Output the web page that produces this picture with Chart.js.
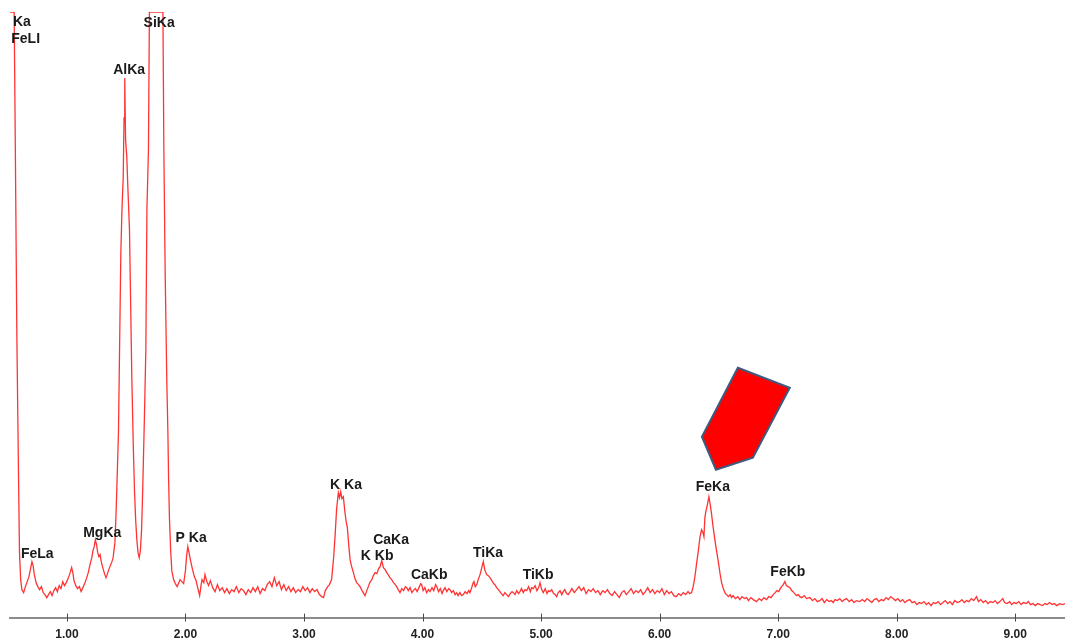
<!DOCTYPE html>
<html>
<head>
<meta charset="utf-8">
<title>EDS spectrum</title>
<script src="https://cdn.jsdelivr.net/npm/chart.js@4.4.1/dist/chart.umd.min.js"></script>
<style>
  html, body { margin: 0; padding: 0; background: #fff; }
  canvas { display: block; }
</style>
</head>
<body>
<canvas id="spectrum" width="1065" height="642"></canvas>
<script>
const energyLow = [
  0.52, 0.545, 0.555, 0.565, 0.578, 0.59, 0.60, 0.61, 0.62, 0.635, 0.65, 0.665, 0.68, 0.695, 0.705, 0.715,
  0.725, 0.74, 0.755, 0.77, 0.785, 0.80, 0.815, 0.83, 0.845, 0.86, 0.875, 0.89, 0.905, 0.92, 0.935, 0.95,
  0.965, 0.98, 0.995, 1.01, 1.025, 1.04, 1.05, 1.06, 1.075, 1.09, 1.105, 1.12, 1.135, 1.15, 1.165, 1.18,
  1.195, 1.21, 1.22, 1.23, 1.24, 1.25, 1.26, 1.27, 1.28, 1.29, 1.30, 1.31, 1.32, 1.33, 1.34, 1.35,
  1.36, 1.37, 1.38, 1.39, 1.405, 1.415, 1.425, 1.435, 1.445, 1.455, 1.465, 1.475, 1.482, 1.488, 1.495, 1.505,
  1.515, 1.528, 1.535, 1.548, 1.56, 1.57, 1.58, 1.59, 1.60, 1.61, 1.62, 1.63, 1.64, 1.654, 1.666, 1.675,
  1.688, 1.696, 1.72, 1.74, 1.76, 1.78, 1.80, 1.81, 1.818, 1.829, 1.843, 1.852, 1.858, 1.865, 1.875, 1.885,
  1.90, 1.915, 1.93, 1.945, 1.955, 1.97, 1.985, 2.00, 2.01, 2.02, 2.03, 2.045, 2.06, 2.075, 2.09, 2.105,
  2.12, 2.13, 2.14, 2.155, 2.165, 2.18, 2.195, 2.21
];
const countsLow = [
  2500, 900, 610, 470, 280, 160, 65, 38, 28, 25, 31, 36, 41, 50, 56, 52,
  43, 35, 31, 28, 31, 25, 23, 20, 23, 26, 22, 27, 30, 26, 32, 29,
  36, 32, 35, 39, 44, 50, 45, 37, 32, 29, 31, 26, 30, 34, 39, 45,
  53, 60, 67, 71, 78, 73, 65, 61, 63, 56, 51, 47, 43, 40, 43, 47,
  50, 53, 56, 60, 75, 105, 145, 185, 275, 365, 410, 440, 500, 540, 478, 462,
  428, 388, 335, 238, 172, 128, 98, 78, 65, 60, 67, 88, 130, 201, 268, 408,
  468, 640, 1400, 1800, 1800, 1400, 900, 640, 468, 345, 235, 185, 138, 100, 68, 47,
  38, 34, 31, 35, 38, 36, 34, 47, 62, 71, 65, 56, 48, 41, 37, 29,
  22, 31, 38, 35, 43, 36, 32, 37
];

const energyMid = [
  2.23, 2.25, 2.27, 2.29, 2.31, 2.33, 2.35, 2.37, 2.39, 2.41, 2.43, 2.45, 2.47, 2.49, 2.51, 2.53,
  2.55, 2.57, 2.59, 2.61, 2.63, 2.65, 2.67, 2.69, 2.71, 2.73, 2.75, 2.77, 2.79, 2.81, 2.83, 2.85,
  2.87, 2.89, 2.91, 2.93, 2.95, 2.97, 2.99, 3.01, 3.03, 3.05, 3.07, 3.09, 3.11, 3.13, 3.15, 3.165,
  3.18, 3.20, 3.215, 3.233, 3.25, 3.262, 3.275, 3.29, 3.30, 3.31, 3.32, 3.332, 3.345, 3.356, 3.366, 3.378,
  3.389, 3.40, 3.417, 3.43, 3.445, 3.46, 3.473, 3.49, 3.50, 3.515, 3.53, 3.543, 3.555, 3.572, 3.585, 3.60,
  3.615, 3.63, 3.642, 3.656, 3.67, 3.685, 3.698, 3.71, 3.725, 3.74, 3.755, 3.77, 3.782, 3.795, 3.81, 3.825,
  3.84, 3.855, 3.867, 3.88, 3.895, 3.91, 3.922, 3.94, 3.955, 3.97, 3.985, 3.993, 4.005, 4.02, 4.035, 4.05,
  4.063, 4.08, 4.095, 4.11, 4.12, 4.135, 4.15, 4.165, 4.175, 4.19, 4.205, 4.22, 4.232, 4.245, 4.26, 4.275,
  4.288, 4.30, 4.315, 4.33, 4.344, 4.36, 4.375, 4.39, 4.40, 4.415, 4.425, 4.434, 4.445, 4.457, 4.47, 4.485,
  4.50, 4.513, 4.525, 4.541, 4.555, 4.569, 4.585, 4.60, 4.611, 4.625, 4.64, 4.653, 4.665, 4.68, 4.695, 4.71,
  4.725, 4.74, 4.755, 4.766, 4.78, 4.795, 4.81, 4.822, 4.835, 4.85, 4.865, 4.879, 4.895, 4.91, 4.92, 4.934,
  4.95, 4.965, 4.98, 4.991, 5.005, 5.019, 5.035, 5.05, 5.062, 5.075, 5.09, 5.105, 5.12, 5.132, 5.145, 5.16,
  5.175, 5.187, 5.20, 5.215, 5.229, 5.245
];
const countsMid = [
  30, 26, 33, 27, 30, 25, 29, 24, 28, 26, 31, 25, 29, 27, 23, 28,
  25, 30, 26, 31, 24, 29, 27, 33, 36, 31, 40, 32, 36, 28, 33, 27,
  31, 26, 30, 25, 28, 26, 31, 27, 30, 25, 29, 26, 28, 23, 21, 20,
  27, 31, 33, 38, 60, 81, 108, 125, 120, 126, 119, 121, 106, 96, 90, 72,
  58, 52, 45, 39, 35, 33, 31, 27, 25, 22, 27, 31, 35, 38, 42, 45,
  44, 49, 51, 57, 50, 48, 45, 43, 40, 38, 35, 33, 31, 28, 25, 29,
  27, 31, 30, 27, 30, 25, 27, 29, 26, 30, 34, 33, 27, 30, 25, 28,
  26, 30, 27, 33, 31, 26, 29, 24, 27, 30, 26, 29, 28, 25, 27, 23,
  25, 22, 25, 22, 23, 26, 24, 27, 25, 30, 34, 36, 31, 33, 38, 43,
  50, 56, 48, 43, 42, 40, 37, 34, 33, 30, 28, 26, 24, 22, 25, 23,
  21, 24, 26, 25, 23, 27, 24, 26, 29, 25, 28, 27, 31, 26, 30, 29,
  32, 27, 30, 35, 28, 25, 29, 24, 27, 26, 28, 24, 23, 21, 25, 27,
  23, 26, 28, 24, 23, 26
];

const energyHigh = [
  5.26, 5.28, 5.30, 5.32, 5.34, 5.36, 5.38, 5.40, 5.42, 5.44, 5.46, 5.48, 5.50, 5.52, 5.54, 5.56,
  5.58, 5.60, 5.62, 5.64, 5.66, 5.68, 5.70, 5.72, 5.74, 5.76, 5.78, 5.80, 5.82, 5.84, 5.86, 5.88,
  5.90, 5.92, 5.94, 5.96, 5.98, 6.00, 6.02, 6.04, 6.06, 6.08, 6.10, 6.12, 6.14, 6.16, 6.18, 6.20,
  6.22, 6.24, 6.255, 6.27, 6.285, 6.298, 6.312, 6.326, 6.34, 6.354, 6.366, 6.374, 6.382, 6.39, 6.396, 6.405,
  6.416, 6.427, 6.438, 6.45, 6.466, 6.48, 6.494, 6.51, 6.523, 6.54, 6.555, 6.565, 6.58, 6.595, 6.607, 6.62,
  6.64, 6.66, 6.677, 6.695, 6.715, 6.734, 6.75, 6.77, 6.79, 6.818, 6.84, 6.86, 6.88, 6.902, 6.92, 6.94,
  6.958, 6.975, 6.99, 7.005, 7.018, 7.029, 7.043, 7.057, 7.07, 7.084, 7.10, 7.115, 7.126, 7.14, 7.155, 7.17,
  7.183, 7.20, 7.22, 7.24, 7.267, 7.29, 7.31, 7.33, 7.351, 7.37, 7.39, 7.41, 7.43, 7.45, 7.464, 7.48,
  7.50, 7.52, 7.54, 7.56, 7.577, 7.60, 7.62, 7.64, 7.66, 7.689, 7.71, 7.73, 7.75, 7.77, 7.79, 7.81,
  7.83, 7.85, 7.87, 7.89, 7.91, 7.93, 7.95, 7.97, 7.99, 8.01, 8.03, 8.05, 8.07, 8.09, 8.11, 8.13,
  8.15, 8.17, 8.19, 8.21, 8.23, 8.251, 8.27, 8.29, 8.31, 8.33, 8.35, 8.37, 8.391, 8.41, 8.43, 8.45,
  8.47, 8.49, 8.51, 8.532, 8.55, 8.57, 8.59, 8.61, 8.63, 8.65, 8.673, 8.69, 8.71, 8.73, 8.75, 8.77,
  8.79, 8.813, 8.83, 8.85, 8.87, 8.895, 8.91, 8.93, 8.954, 8.97, 8.99, 9.01, 9.03, 9.05, 9.07, 9.094,
  9.11, 9.13, 9.15, 9.17, 9.19, 9.21, 9.232, 9.25, 9.27, 9.29, 9.31, 9.33, 9.35, 9.375, 9.40, 9.42
];
const countsHigh = [
  29, 25, 28, 31, 27, 30, 24, 28, 26, 29, 25, 27, 23, 27, 25, 28,
  24, 22, 26, 23, 20, 25, 27, 23, 26, 29, 24, 27, 25, 28, 23, 26,
  30, 25, 28, 24, 27, 25, 29, 23, 27, 24, 26, 22, 21, 24, 22, 25,
  23, 26, 24, 25, 32, 41, 54, 66, 80, 88, 85, 81, 100, 106, 109, 114,
  121, 113, 104, 92, 78, 67, 57, 44, 35, 28, 24, 23, 21, 23, 20, 22,
  19, 21, 18, 21, 19, 20, 17, 20, 18, 16, 19, 17, 20, 18, 21, 20,
  23, 25, 27, 26, 29, 31, 33, 36, 32, 31, 30, 27, 26, 24, 22, 23,
  21, 20, 22, 19, 20, 17, 19, 16, 17, 19, 15, 18, 16, 17, 15, 18,
  17, 19, 16, 18, 19, 16, 18, 15, 17, 16, 18, 16, 19, 17, 15, 18,
  19, 16, 18, 17, 20, 18, 21, 19, 17, 19, 16, 18, 15, 17, 18, 15,
  16, 13, 15, 14, 16, 13, 15, 12, 15, 14, 16, 13, 15, 17, 14, 16,
  13, 17, 15, 16, 18, 15, 17, 16, 19, 17, 21, 16, 18, 15, 17, 14,
  16, 15, 17, 14, 16, 19, 15, 14, 16, 13, 15, 14, 16, 13, 15, 14,
  16, 13, 14, 12, 14, 13, 12, 14, 13, 15, 13, 14, 12, 14, 13, 14
];

// Etiquetas de picos: nombre, energía (keV) y altura (cuentas) del centro del texto
const peakNames    = ['Ka', 'FeLI', 'SiKa', 'AlKa', 'FeLa', 'MgKa', 'P Ka', 'K Ka', 'CaKa', 'K Kb', 'CaKb', 'TiKa', 'TiKb', 'FeKa', 'FeKb'];
const peakEnergies = [0.62, 0.652, 1.778, 1.525, 0.75, 1.298, 2.048, 3.355, 3.735, 3.617, 4.056, 4.553, 4.975, 6.449, 7.082];
const peakHeights  = [596, 579, 595, 548, 64, 85, 80, 133, 78, 62, 42, 65, 42, 131, 45];

// Marcas del eje X
const tickValues = [1, 2, 3, 4, 5, 6, 7, 8, 9];

const X_MIN = 0.52;
const X_MAX = 9.42;
const Y_MAX = 606; // techo de la pantalla: los picos más altos quedan recortados en plano

const energy = [...energyLow, ...energyMid, ...energyHigh];
const counts = [...countsLow, ...countsMid, ...countsHigh];
const points = energy.map((e, i) => ({ x: e, y: Math.min(counts[i], Y_MAX) }));

// Flecha roja señalando FeKa (vértices en keV / cuentas)
const arrowX = [6.66, 7.098, 6.787, 6.475, 6.357];
const arrowY = [250, 230, 160, 148, 181];

const FONT = '"Liberation Sans", Arial, sans-serif';

/**
 * Dibuja marcas cortas que cruzan la línea del eje X.
 */
const axisTicksPlugin = {
  id: 'axisTicks',
  afterDraw(chart) {
    const { ctx, chartArea, scales } = chart;
    ctx.save();
    ctx.strokeStyle = '#4a4a4a';
    ctx.lineWidth = 1;
    for (const v of tickValues) {
      const px = Math.round(scales.x.getPixelForValue(v)) + 0.5;
      ctx.beginPath();
      ctx.moveTo(px, chartArea.bottom - 4);
      ctx.lineTo(px, chartArea.bottom + 4);
      ctx.stroke();
    }
    ctx.restore();
  },
};

/**
 * Etiquetas de los picos y flecha indicadora.
 */
const annotationsPlugin = {
  id: 'peakAnnotations',
  afterDatasetsDraw(chart) {
    const { ctx, scales } = chart;
    const sx = scales.x;
    const sy = scales.y;
    ctx.save();
    ctx.font = 'bold 14px ' + FONT;
    ctx.fillStyle = '#1a1a1a';
    ctx.textAlign = 'center';
    ctx.textBaseline = 'middle';
    peakNames.forEach((name, i) => {
      ctx.fillText(name, sx.getPixelForValue(peakEnergies[i]), sy.getPixelForValue(peakHeights[i]));
    });

    ctx.beginPath();
    arrowX.forEach((e, i) => {
      const px = sx.getPixelForValue(e);
      const py = sy.getPixelForValue(arrowY[i]);
      if (i === 0) ctx.moveTo(px, py);
      else ctx.lineTo(px, py);
    });
    ctx.closePath();
    ctx.fillStyle = '#ff0000';
    ctx.fill();
    ctx.strokeStyle = '#3d5a80';
    ctx.lineWidth = 2;
    ctx.lineJoin = 'miter';
    ctx.stroke();
    ctx.restore();
  },
};

new Chart(document.getElementById('spectrum').getContext('2d'), {
  type: 'line',
  data: {
    datasets: [{
      data: points,
      borderColor: '#ff3333',
      borderWidth: 1.3,
      pointRadius: 0,
      tension: 0,
      fill: false,
    }],
  },
  options: {
    responsive: false,
    animation: false,
    devicePixelRatio: 1,
    layout: { padding: { left: 10, top: 12, right: 0, bottom: -6 } },
    plugins: { legend: { display: false }, tooltip: { enabled: false } },
    scales: {
      x: {
        type: 'linear',
        min: X_MIN,
        max: X_MAX,
        border: { display: true, color: '#8c8c8c', width: 2 },
        grid: { display: true, drawOnChartArea: false, drawTicks: true, tickLength: 4, color: 'rgba(0,0,0,0)' },
        ticks: {
          stepSize: 1,
          includeBounds: false,
          autoSkip: false,
          maxRotation: 0,
          padding: 6,
          color: '#222',
          font: { family: FONT, size: 12, weight: 'bold' },
          callback: (v) => Number(v).toFixed(2),
        },
      },
      y: { display: false, min: 0, max: Y_MAX },
    },
  },
  plugins: [axisTicksPlugin, annotationsPlugin],
});
</script>
</body>
</html>
